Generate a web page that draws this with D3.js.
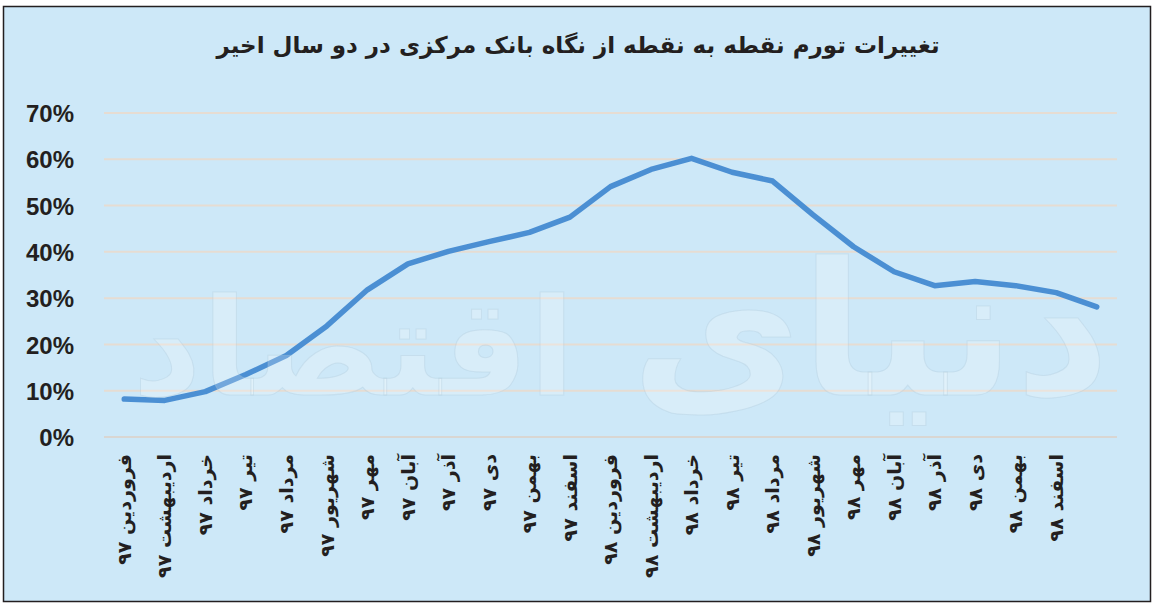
<!DOCTYPE html>
<html lang="fa">
<head>
    <meta charset="UTF-8">
    <title>تغییرات تورم نقطه به نقطه</title>
    <script src="https://d3js.org/d3.v7.min.js"></script>
    <style>
        body { margin: 0; background: #fff; }
        .title { font: bold 23px "DejaVu Sans", sans-serif; fill: #231f20; }
        .ytick text { font: bold 24px "Liberation Sans", Arial, sans-serif; fill: #231f20; }
        .xtick text { font: bold 19px "DejaVu Sans", sans-serif; fill: #231f20; }
        .grid { stroke: #e6dcd2; stroke-width: 2px; }
        .grid.zero { stroke: #d9d6d2; }
        .line { fill: none; stroke: #4b8fd3; stroke-width: 5.5px; stroke-linejoin: round; stroke-linecap: round; }
        .mark text { font-family: "DejaVu Sans", sans-serif; font-weight: bold; fill: #ffffff; fill-opacity: 0.22; stroke: #a9c4d4; stroke-opacity: 0.3; }
    </style>
</head>
<body>
    <script>
        // داده‌ها
        const categories = [
            "فروردین ۹۷", "اردیبهشت ۹۷", "خرداد ۹۷", "تیر ۹۷", "مرداد ۹۷", "شهریور ۹۷",
            "مهر ۹۷", "آبان ۹۷", "آذر ۹۷", "دی ۹۷", "بهمن ۹۷", "اسفند ۹۷",
            "فروردین ۹۸", "اردیبهشت ۹۸", "خرداد ۹۸", "تیر ۹۸", "مرداد ۹۸", "شهریور ۹۸",
            "مهر ۹۸", "آبان ۹۸", "آذر ۹۸", "دی ۹۸", "بهمن ۹۸", "اسفند ۹۸", ""
        ];
        const inflation = [
            8.2, 7.9, 9.8, 13.5, 17.6, 24.0, 31.8, 37.4, 40.1, 42.2, 44.2, 47.5,
            54.1, 57.8, 60.2, 57.2, 55.3, 48.0, 41.1, 35.7, 32.7, 33.6, 32.7, 31.2, 28.1
        ];
        const yTicks = [0, 10, 20, 30, 40, 50, 60, 70];
        const title = "تغییرات تورم نقطه به نقطه از نگاه بانک مرکزی در دو سال اخیر";

        const W = 1158, H = 610;
        const plot = { left: 104, right: 1117, top: 113, bottom: 437 };

        const svg = d3.select("body").append("svg")
            .attr("width", W)
            .attr("height", H);

        // قاب و پس‌زمینه
        svg.append("rect")
            .attr("x", 3.5).attr("y", 6.5)
            .attr("width", 1147).attr("height", 595)
            .attr("fill", "#cde8f8")
            .attr("stroke", "#231f20")
            .attr("stroke-width", 1.5);

        svg.append("text")
            .attr("class", "title")
            .attr("x", 578).attr("y", 53)
            .attr("direction", "rtl")
            .attr("text-anchor", "middle")
            .text(title);

        const x = d3.scaleBand()
            .domain(d3.range(categories.length))
            .range([plot.left, plot.right]);

        const y = d3.scaleLinear()
            .domain([0, 70])
            .range([plot.bottom, plot.top]);

        // خطوط شبکه
        svg.append("g").selectAll("line")
            .data(yTicks)
            .join("line")
            .attr("class", d => d === 0 ? "grid zero" : "grid")
            .attr("x1", plot.left).attr("x2", plot.right)
            .attr("y1", d => y(d)).attr("y2", d => y(d));

        const yAxis = svg.append("g")
            .attr("class", "ytick")
            .attr("transform", "translate(74,0)")
            .call(d3.axisLeft(y).tickValues(yTicks).tickSize(0).tickPadding(0)
                .tickFormat(d => d + "%"));
        yAxis.select(".domain").remove();
        yAxis.selectAll("text").attr("dy", "0.36em");

        const xAxis = svg.append("g")
            .attr("class", "xtick")
            .attr("transform", `translate(0,${plot.bottom})`)
            .call(d3.axisBottom(x).tickSize(0).tickFormat(i => categories[i]));
        xAxis.select(".domain").remove();
        xAxis.selectAll("text")
            .attr("transform", "rotate(-90)")
            .attr("direction", "rtl")
            .attr("text-anchor", "start")
            .attr("x", -17)
            .attr("y", 0)
            .attr("dy", "0.35em");

        const line = d3.line()
            .x((d, i) => x(i) + x.bandwidth() / 2)
            .y(d => y(d));

        svg.append("path")
            .datum(inflation)
            .attr("class", "line")
            .attr("d", line);

        // واترمارک
        const mark = svg.append("g").attr("class", "mark");
        mark.append("text")
            .attr("x", 1110).attr("y", 395)
            .attr("direction", "rtl")
            .attr("text-anchor", "start")
            .style("font-size", "185px")
            .text("دنیای");
        mark.append("text")
            .attr("x", 575).attr("y", 395)
            .attr("direction", "rtl")
            .attr("text-anchor", "start")
            .style("font-size", "135px")
            .text("اقتصاد");
    </script>
</body>
</html>
